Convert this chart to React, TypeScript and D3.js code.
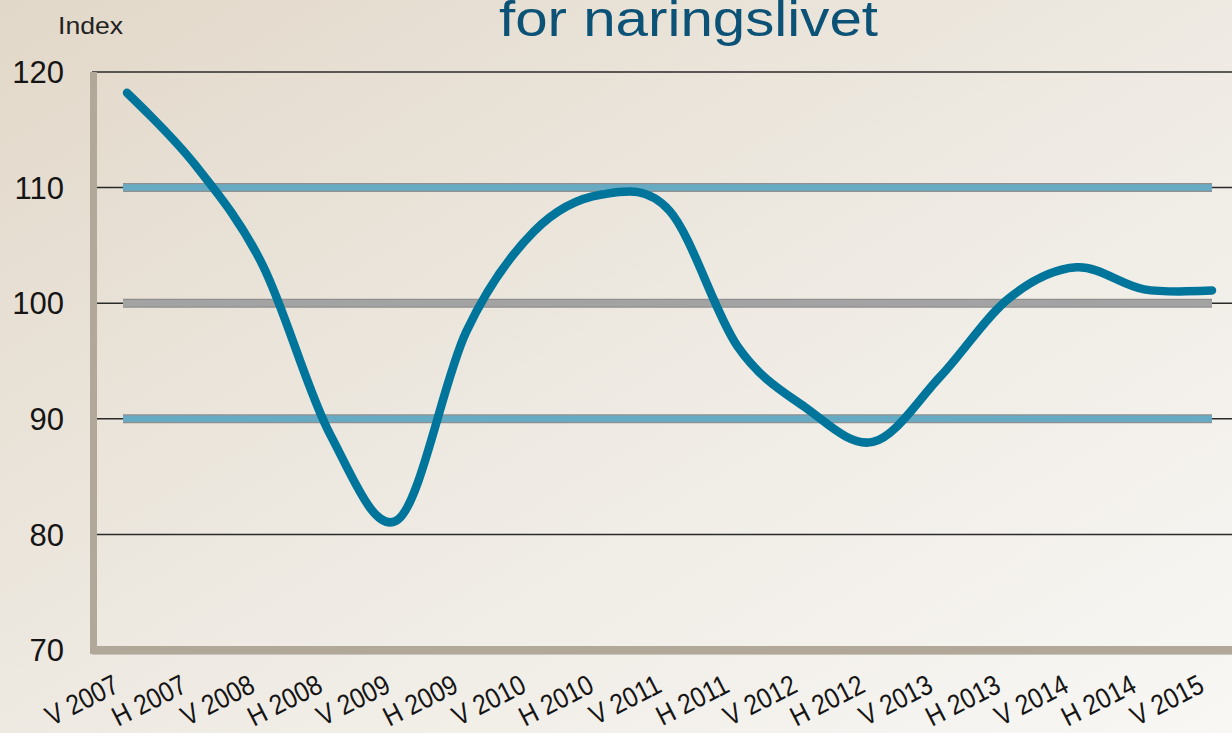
import React, { useEffect, useRef } from "react";
import * as d3 from "d3";

const periods = [
  "V 2007", "H 2007", "V 2008", "H 2008", "V 2009", "H 2009",
  "V 2010", "H 2010", "V 2011", "H 2011", "V 2012", "H 2012",
  "V 2013", "H 2013", "V 2014", "H 2014", "V 2015",
];

const indexValues = [
  118.2, 112.0, 103.3, 88.6, 81.3, 97.5,
  106.2, 109.4, 108.0, 96.3, 91.0, 88.0,
  93.7, 100.4, 103.1, 101.2, 101.1,
];

const yTicks = [70, 80, 90, 100, 110, 120];
const bands = [
  { value: 110, color: "#66abc3" },
  { value: 100, color: "#a3a3a3" },
  { value: 90, color: "#66abc3" },
];

const width = 1232;
const height = 733;

export default function App() {
  const svgRef = useRef<SVGSVGElement | null>(null);

  useEffect(() => {
    const svg = d3.select(svgRef.current);
    svg.selectAll("*").remove();

    const defs = svg.append("defs");
    const grad = defs
      .append("linearGradient")
      .attr("id", "bg")
      .attr("x1", "0%")
      .attr("y1", "0%")
      .attr("x2", "100%")
      .attr("y2", "100%");
    grad.append("stop").attr("offset", "0%").attr("stop-color", "#e2d8c9");
    grad.append("stop").attr("offset", "55%").attr("stop-color", "#efebe4");
    grad.append("stop").attr("offset", "100%").attr("stop-color", "#f8f7f4");

    svg.append("rect").attr("width", width).attr("height", height).attr("fill", "url(#bg)");

    const x = d3.scalePoint<string>().domain(periods).range([127, 1212]);
    const y = d3.scaleLinear().domain([70, 120]).range([650, 72]);

    // title, cut off at the top like the original slide
    svg
      .append("text")
      .attr("x", 499)
      .attr("y", 36)
      .attr("font-family", "Liberation Sans, Arial, sans-serif")
      .attr("font-size", 50)
      .attr("fill", "#0b5276")
      .attr("textLength", 379)
      .attr("lengthAdjust", "spacingAndGlyphs")
      .text("for naringslivet");

    svg
      .append("text")
      .attr("x", 58)
      .attr("y", 34)
      .attr("font-family", "Liberation Sans, Arial, sans-serif")
      .attr("font-size", 24)
      .attr("fill", "#222")
      .attr("textLength", 65)
      .attr("lengthAdjust", "spacingAndGlyphs")
      .text("Index");

    // thin grid lines
    svg
      .append("g")
      .selectAll("line")
      .data(yTicks.filter((t) => t > 70))
      .join("line")
      .attr("x1", 92)
      .attr("x2", width)
      .attr("y1", (d) => y(d))
      .attr("y2", (d) => y(d))
      .attr("stroke", "#2a2a2a")
      .attr("stroke-width", 1.5);

    // thick reference bands
    const bandG = svg.append("g");
    bandG
      .selectAll("line.edge")
      .data(bands)
      .join("line")
      .attr("class", "edge")
      .attr("x1", 123)
      .attr("x2", 1212)
      .attr("y1", (d) => y(d.value))
      .attr("y2", (d) => y(d.value))
      .attr("stroke", "#8f8f8f")
      .attr("stroke-width", 9);
    bandG
      .selectAll("line.fill")
      .data(bands)
      .join("line")
      .attr("class", "fill")
      .attr("x1", 123)
      .attr("x2", 1212)
      .attr("y1", (d) => y(d.value))
      .attr("y2", (d) => y(d.value))
      .attr("stroke", (d) => d.color)
      .attr("stroke-width", 6.5);

    // 3d-ish frame: left wall and floor
    svg.append("rect").attr("x", 90).attr("y", 72).attr("width", 7).attr("height", 582).attr("fill", "#b2a89a");
    svg.append("rect").attr("x", 90).attr("y", 646).attr("width", width - 90).attr("height", 8).attr("fill", "#b2a89a");
    svg.append("line").attr("x1", 92).attr("x2", width).attr("y1", 654.5).attr("y2", 654.5).attr("stroke", "#c9c4bc").attr("stroke-width", 1);

    // y labels
    svg
      .append("g")
      .selectAll("text")
      .data(yTicks)
      .join("text")
      .attr("x", 64)
      .attr("y", (d) => y(d))
      .attr("dy", "0.36em")
      .attr("text-anchor", "end")
      .attr("font-family", "Liberation Sans, Arial, sans-serif")
      .attr("font-size", 31)
      .attr("fill", "#151515")
      .text((d) => d);

    // x labels (slightly condensed, like the source)
    svg
      .append("g")
      .selectAll("text")
      .data(periods)
      .join("text")
      .attr("text-anchor", "end")
      .attr("font-family", "Liberation Sans, Arial, sans-serif")
      .attr("font-size", 28)
      .attr("fill", "#151515")
      .attr("transform", (d) => `translate(${(x(d) as number) - 6},${691}) rotate(-27) scale(0.88,1)`)
      .text((d) => d);

    // index line
    const line = d3
      .line<number>()
      .x((_, i) => x(periods[i]) as number)
      .y((d) => y(d))
      .curve(d3.curveCardinal.tension(0));

    svg
      .append("path")
      .datum(indexValues)
      .attr("fill", "none")
      .attr("stroke", "#00759b")
      .attr("stroke-width", 8.5)
      .attr("stroke-linecap", "round")
      .attr("stroke-linejoin", "round")
      .attr("d", line);
  }, []);

  return (
    <svg
      ref={svgRef}
      width={width}
      height={height}
      style={{ position: "absolute", left: 0, top: 0, display: "block" }}
    ></svg>
  );
}
